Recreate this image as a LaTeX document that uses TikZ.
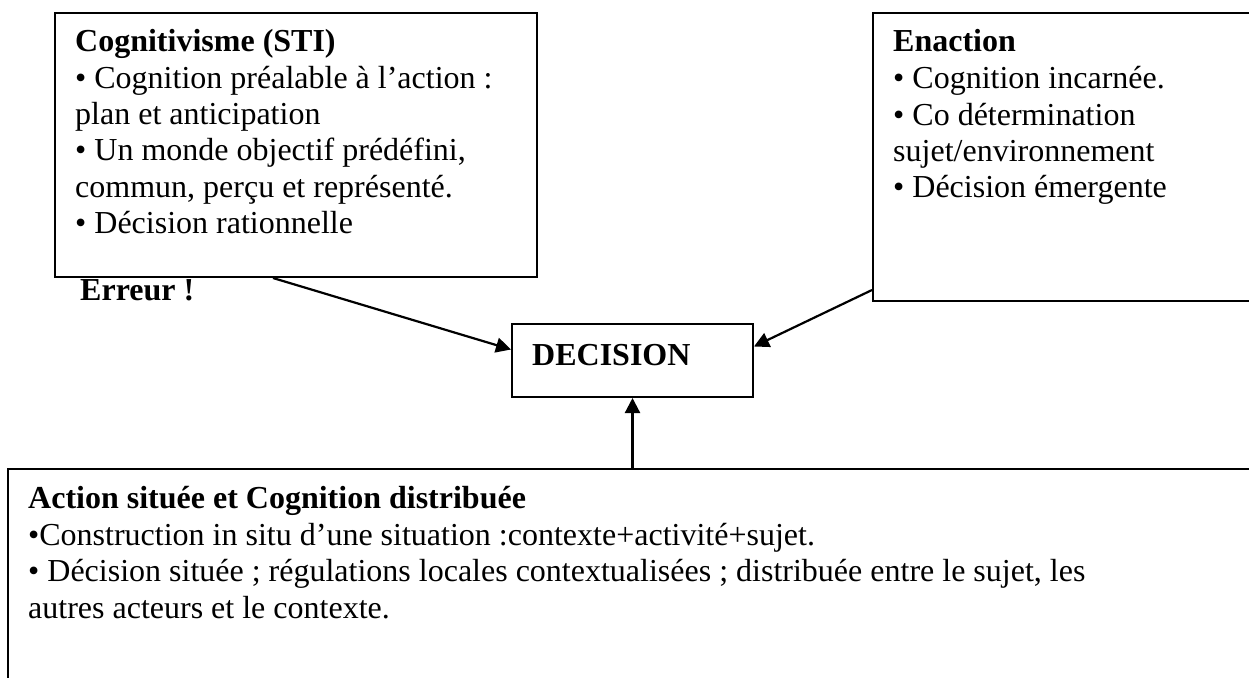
\documentclass[tikz,border=0pt]{standalone}
\usepackage{fontspec}
\setmainfont{Liberation Serif}
\usetikzlibrary{arrows.meta}
\begin{document}
\begin{tikzpicture}[x=1pt,y=1pt,
  box/.style={draw=black,line width=2pt,rectangle,inner sep=0pt,anchor=north west},
  txt/.style={anchor=base west,inner sep=0pt,font=\fontsize{32}{36.5}\selectfont},
  hd/.style={txt,font=\fontsize{32}{36.5}\selectfont\bfseries},
  arr/.style={line width=2.2pt,-{Triangle[length=15pt,width=15pt]}}]
\useasboundingbox (0,0) rectangle (1249,-677);
\clip (0,0) rectangle (1249,-677);
% boxes
\node[box,minimum width=482pt,minimum height=264pt] (cog) at (54,-12) {};
\node[box,minimum width=400pt,minimum height=288pt] (ena) at (872,-12) {};
\node[box,minimum width=241pt,minimum height=73pt] (dec) at (511,-323) {};
\node[box,minimum width=1260pt,minimum height=240pt] (sit) at (7,-468) {};
% Cognitivisme text
\node[hd]  (c1) at (75,-52)  {Cognitivisme (STI)};
\node[txt] (c2) at (75,-88)  {• Cognition préalable à l’action :};
\node[txt] (c3) at (75,-124) {plan et anticipation};
\node[txt] (c4) at (75,-160) {• Un monde objectif prédéfini,};
\node[txt] (c5) at (75,-197) {commun, perçu et représenté.};
\node[txt] (c6) at (75,-233) {• Décision rationnelle};
\node[hd]  (err) at (80,-300) {Erreur !};
% Enaction text
\node[hd]  (e1) at (893,-52)  {Enaction};
\node[txt] (e2) at (893,-88)  {• Cognition incarnée.};
\node[txt] (e3) at (893,-125) {• Co détermination};
\node[txt] (e4) at (893,-161) {sujet/environnement};
\node[txt] (e5) at (893,-197) {• Décision émergente};
% Decision text
\node[hd] (d1) at (532,-365) {DECISION};
% Situated action text
\node[hd]  (s1) at (28,-508) {Action située et Cognition distribuée};
\node[txt] (s2) at (28,-545) {•Construction in situ d’une situation :contexte+activité+sujet.};
\node[txt] (s3) at (28,-581) {• Décision située ; régulations locales contextualisées ; distribuée entre le sujet, les};
\node[txt] (s4) at (28,-618) {autres acteurs et le contexte.};
% arrows
\draw[arr] ([xshift=219pt]cog.south west) -- ([yshift=11pt]dec.west);
\draw[arr] ([yshift=12pt]ena.south west) -- ([yshift=14pt]dec.east);
\draw[arr] (dec.south |- sit.north) -- (dec.south);
\end{tikzpicture}
\end{document}
